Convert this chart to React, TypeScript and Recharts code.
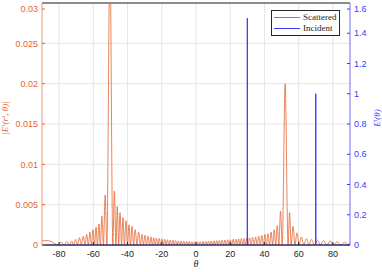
import { LineChart, Line, XAxis, YAxis, CartesianGrid, Legend, ReferenceLine } from "recharts"

const thetaTicks = [-80, -60, -40, -20, 0, 20, 40, 60, 80]
const scatteredTicks = [0, 0.005, 0.01, 0.015, 0.02, 0.025, 0.03]
const incidentTicks = [0, 0.2, 0.4, 0.6, 0.8, 1, 1.2, 1.4, 1.6]
const seriesNames = ["Scattered", "Incident"]

type Pt = [number, number]

// [theta, |E^s|], lobe peaks and nulls
const scatteredLeftTail: Pt[] = [
  [-90, 0.0005], [-88.5, 0.00055], [-87, 0.00055], [-85.5, 0.0005], [-84, 0.00035], [-82.5, 0.00015],
  [-81, 0], [-79, 0.00035], [-77, 0], [-75.5, 0.0004], [-74, 0], [-72.7, 0.0005], [-71.5, 0],
  [-70.4, 0.0007], [-69.3, 0], [-68.1, 0.0009], [-67, 0], [-65.9, 0.0011], [-64.9, 0],
  [-63.9, 0.0013], [-62.9, 0], [-62, 0.0016], [-61.1, 0], [-60.2, 0.0019], [-59.3, 0],
  [-58.4, 0.0022], [-57.6, 0], [-56.7, 0.0026], [-55.9, 0],
]

const scatteredLeftLobe: Pt[] = [
  [-55, 0.0036], [-54.1, 0], [-53.1, 0.0062], [-52.1, 0], [-50.3, 0.036], [-48.6, 0],
  [-47.7, 0.0067], [-46.8, 0], [-46, 0.0048], [-45.2, 0], [-44.4, 0.004], [-43.5, 0],
  [-42.7, 0.0034], [-41.8, 0], [-40.9, 0.003], [-40, 0], [-39.2, 0.0025], [-38.3, 0],
  [-37.4, 0.0023], [-36.5, 0], [-35.5, 0.0019], [-34.5, 0], [-33.5, 0.0016], [-32.5, 0],
  [-31.6, 0.0013], [-30.7, 0],
]

const scatteredMiddle: Pt[] = [
  [-29.8, 0.0012], [-28.9, 0], [-28, 0.0011], [-27.1, 0], [-26.3, 0.001], [-25.5, 0],
  [-24.7, 0.0009], [-23.9, 0], [-23.1, 0.00085], [-22.3, 0], [-21.5, 0.0008], [-20.7, 0],
  [-19.9, 0.00075], [-19.1, 0], [-18.3, 0.0007], [-17.5, 0], [-16.7, 0.00065], [-15.9, 0],
  [-15.1, 0.0006], [-14.3, 0], [-13.5, 0.0006], [-12.7, 0], [-11.9, 0.00055], [-11.1, 0],
  [-10.3, 0.0005], [-9.5, 0], [-8.7, 0.0005], [-7.9, 0], [-7.1, 0.00045], [-6.3, 0],
  [-5.5, 0.00045], [-4.7, 0], [-3.9, 0.00045], [-3.1, 0], [-2.3, 0.0004], [-1.5, 0],
  [-0.7, 0.0004], [0.1, 0], [0.9, 0.0004], [1.7, 0], [2.5, 0.0004], [3.3, 0],
  [4.1, 0.00045], [4.9, 0], [5.7, 0.00045], [6.5, 0], [7.3, 0.00045], [8.1, 0],
  [8.9, 0.0005], [9.7, 0], [10.5, 0.0005], [11.3, 0], [12.1, 0.00055], [12.9, 0],
  [13.7, 0.00055], [14.5, 0], [15.3, 0.0006], [16.1, 0], [16.9, 0.0006], [17.7, 0],
  [18.5, 0.00065], [19.3, 0], [20.1, 0.00065], [20.9, 0], [21.7, 0.0007], [22.5, 0],
  [23.3, 0.0007], [24.1, 0], [24.9, 0.00075], [25.7, 0], [26.5, 0.0008], [27.3, 0],
  [28.1, 0.0008], [28.9, 0], [29.7, 0.00085], [30.5, 0],
]

const scatteredRightLobe: Pt[] = [
  [31.3, 0.0009], [32.2, 0], [33.1, 0.00095], [34, 0], [34.9, 0.001], [35.8, 0],
  [36.7, 0.0011], [37.6, 0], [38.5, 0.0012], [39.4, 0], [40.3, 0.0013], [41.2, 0],
  [42.1, 0.0014], [43, 0], [43.9, 0.0016], [44.8, 0], [45.7, 0.0019], [46.6, 0],
  [47.5, 0.0024], [48.4, 0], [49.4, 0.0042], [50.4, 0], [52.1, 0.02], [53.8, 0],
  [54.7, 0.004], [55.6, 0], [56.7, 0.0023], [57.8, 0], [59, 0.0015], [60.2, 0],
  [61.6, 0.001], [63, 0],
]

const scatteredRightTail: Pt[] = [
  [64.5, 0.0008], [66, 0], [67.5, 0.0007], [69.2, 0], [71, 0.0006], [72.8, 0],
  [74.6, 0.00055], [76.5, 0], [78.4, 0.0005], [80.4, 0], [82.5, 0.0004], [84.7, 0],
  [87, 0.00035], [88.6, 0.00005], [90, 0.0003],
]

const incidentTheta = [-90, 30, 30, 30, 70, 70, 70, 90]
const incidentE = [0, 0, 1.5, 0, 0, 1, 0, 0]

const scatteredData = [
  ...scatteredLeftTail,
  ...scatteredLeftLobe,
  ...scatteredMiddle,
  ...scatteredRightLobe,
  ...scatteredRightTail,
].map(([theta, e]) => ({ theta, e }))

const incidentData = incidentTheta.map((theta, i) => ({ theta, e: incidentE[i] }))

const ORANGE = "#E5652F"
const BLUE = "#3A3AFF"
const DARK = "#262626"
const FONT = "Liberation Sans, Arial, sans-serif"
const mathFont = "Liberation Serif, DejaVu Serif, serif"

// MATLAB style: inward tick mark + label
function makeTick(side: "bottom" | "left" | "right", color: string, lineColor: string) {
  return (props: any) => {
    const { x, y, payload } = props
    const v = payload.value
    if (side === "bottom") {
      return (
        <g>
          <line x1={x} x2={x} y1={245} y2={242} stroke={lineColor} />
          <text x={x} y={y} dy="0.71em" textAnchor="middle" fontFamily={FONT} fontSize={9} fill={color}>{v}</text>
        </g>
      )
    }
    if (side === "left") {
      return (
        <g>
          <line x1={42} x2={45} y1={y} y2={y} stroke={lineColor} />
          <text x={x} y={y} dy="0.355em" textAnchor="end" fontFamily={FONT} fontSize={9} fill={color}>{v}</text>
        </g>
      )
    }
    return (
      <g>
        <line x1={350} x2={347} y1={y} y2={y} stroke={lineColor} />
        <text x={x} y={y} dy="0.355em" textAnchor="start" fontFamily={FONT} fontSize={9} fill={color}>{v}</text>
      </g>
    )
  }
}

function TopTick(props: any) {
  return <line x1={props.x} x2={props.x} y1={3} y2={6} stroke={DARK} />
}

function LegendBox(props: any) {
  const items = [...(props.payload || [])].sort(
    (a: any, b: any) => seriesNames.indexOf(a.value) - seriesNames.indexOf(b.value)
  )
  return (
    <div
      style={{
        border: `1px solid ${DARK}`,
        background: "#fff",
        padding: "1px 3px 1px 2px",
        fontFamily: mathFont,
        fontSize: 9,
        lineHeight: "11px",
        color: DARK,
      }}
    >
      {items.map((it: any) => (
        <div key={it.value} style={{ display: "flex", alignItems: "center" }}>
          <span style={{ display: "inline-block", width: 26, borderTop: `1px solid ${it.color}`, marginRight: 3 }} />
          <span>{it.value}</span>
        </div>
      ))}
    </div>
  )
}

export default function App() {
  return (
    <div style={{ position: "absolute", left: 0, top: 0, width: 382, height: 272, background: "#fff" }}>
      <LineChart width={382} height={272} margin={{ top: 3, right: 0, bottom: 0, left: 0 }}>
        <CartesianGrid yAxisId="left" stroke="#E6E6E6" vertical horizontal />
        <XAxis
          dataKey="theta"
          type="number"
          domain={[-90, 90]}
          ticks={thetaTicks}
          height={27}
          tickSize={0}
          tickMargin={6}
          tick={makeTick("bottom", DARK, DARK)}
          axisLine={{ stroke: DARK }}
          label={() => (
            <text x={196} y={267} textAnchor="middle" fontFamily={mathFont} fontStyle="italic" fontSize={10} fill={DARK}>
              θ
            </text>
          )}
        />
        <XAxis
          xAxisId="top"
          orientation="top"
          dataKey="theta"
          type="number"
          domain={[-90, 90]}
          ticks={thetaTicks}
          height={0}
          tickSize={0}
          axisLine={false}
          tick={TopTick}
        />
        <YAxis
          yAxisId="left"
          orientation="left"
          width={42}
          domain={[0, 0.03]}
          ticks={scatteredTicks}
          allowDataOverflow
          tickSize={0}
          tickMargin={4}
          tick={makeTick("left", ORANGE, ORANGE)}
          axisLine={{ stroke: "#EFA27E" }}
          label={() => (
            <text
              x={8}
              y={118}
              transform="rotate(-90 8 118)"
              textAnchor="middle"
              fontFamily={mathFont}
              fontStyle="italic"
              fontSize={9}
              fill={ORANGE}
            >
              |E<tspan baselineShift="super" fontSize={6}>s</tspan>(r<tspan baselineShift="super" fontSize={6}>s</tspan>, θ)|
            </text>
          )}
        />
        <YAxis
          yAxisId="right"
          orientation="right"
          width={32}
          domain={[0, 1.6]}
          ticks={incidentTicks}
          tickSize={0}
          tickMargin={4}
          tick={makeTick("right", BLUE, BLUE)}
          axisLine={{ stroke: "#7C7CFF" }}
          label={() => (
            <text
              x={380}
              y={118}
              transform="rotate(-90 380 118)"
              textAnchor="middle"
              fontFamily={mathFont}
              fontStyle="italic"
              fontSize={9}
              fill={BLUE}
            >
              E<tspan baselineShift="super" fontSize={6}>i</tspan>(θ)
            </text>
          )}
        />
        <ReferenceLine yAxisId="left" y={0.03} stroke={DARK} />
        <Line
          yAxisId="left"
          data={scatteredData}
          dataKey="e"
          name="Scattered"
          type="monotone"
          stroke={ORANGE}
          strokeWidth={0.8}
          dot={false}
          isAnimationActive={false}
        />
        <Line
          yAxisId="right"
          data={incidentData}
          dataKey="e"
          name="Incident"
          type="linear"
          stroke={BLUE}
          strokeWidth={1}
          dot={false}
          isAnimationActive={false}
        />
        <Legend
          layout="vertical"
          align="center"
          verticalAlign="middle"
          content={LegendBox}
          wrapperStyle={{ position: "absolute", left: 271, top: 10, width: "auto", height: "auto" }}
        />
      </LineChart>
    </div>
  )
}
